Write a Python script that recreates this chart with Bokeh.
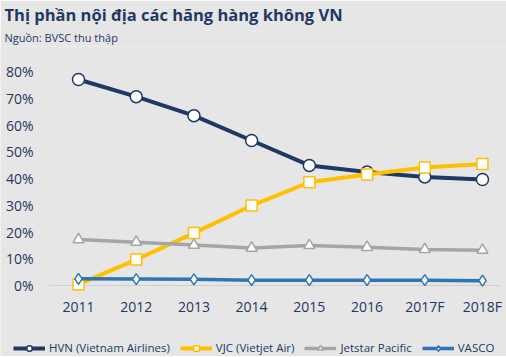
from bokeh.plotting import figure
from bokeh.models import (ColumnDataSource, FixedTicker, Legend, LegendItem, Title,
                          NumeralTickFormatter)
from bokeh.embed import file_html
from bokeh.resources import INLINE

years = ["2011", "2012", "2013", "2014", "2015", "2016", "2017F", "2018F"]
hvn = [0.77, 0.706, 0.635, 0.542, 0.449, 0.424, 0.406, 0.396]
vjc = [0.004, 0.097, 0.196, 0.299, 0.386, 0.415, 0.441, 0.454]
jetstar = [0.172, 0.162, 0.151, 0.140, 0.150, 0.143, 0.135, 0.132]
vasco = [0.025, 0.024, 0.023, 0.020, 0.020, 0.020, 0.020, 0.018]
y_ticks = [0, 0.1, 0.2, 0.3, 0.4, 0.5, 0.6, 0.7, 0.8]

names = ["HVN (Vietnam Airlines)", "VJC (Vietjet Air)", "Jetstar Pacific", "VASCO"]
colors = ["#1F3864", "#FFC000", "#A5A5A5", "#2E75B6"]
markers = ["circle", "square", "triangle", "diamond"]
msizes = [12, 11, 11, 11]
lwidths = [4, 4, 3.5, 3.5]

FONT = "Open Sans"
TXT = "#1F3864"
BG = "#E6E6E6"

x = list(range(len(years)))

# frame spans the full canvas width and down to the bottom edge, so the legend
# can sit inside it; axes are pinned at fixed locations inside the frame
p = figure(width=506, height=357, frame_width=506, frame_height=310,
           output_backend="svg", toolbar_location=None,
           x_range=(-1.3516, 7.4164), y_range=(-0.2654, 0.8935), title=None,
           min_border_left=0, min_border_right=0, min_border_top=0, min_border_bottom=0,
           background_fill_color=BG, border_fill_color=BG, outline_line_color=None)
p.xgrid.visible = False
p.ygrid.visible = False

items = []
series = [hvn, vjc, jetstar, vasco]
for vals, name, c, m, ms, lw in zip(series, names, colors, markers, msizes, lwidths):
    src = ColumnDataSource(dict(x=x, y=vals))
    r1 = p.line("x", "y", source=src, line_color=c, line_width=lw, line_join="round")
    r2 = p.scatter("x", "y", source=src, marker=m, size=ms, fill_color="white",
                   line_color=c, line_width=1.5)
    items.append(LegendItem(label=name, renderers=[r1, r2]))

# x axis: baseline at 0%, light grey line under the series
p.xaxis.ticker = FixedTicker(ticks=x)
p.xaxis.major_label_overrides = {i: y for i, y in enumerate(years)}
p.xaxis.fixed_location = 0
p.xaxis.bounds = (-0.5025, 7.312)
p.xaxis.axis_line_color = "#CFCFCF"
p.xaxis.axis_line_width = 1
p.xaxis.level = "underlay"
p.xaxis.major_label_standoff = 11

# y axis pinned at the left edge of the plotting area
p.yaxis.ticker = FixedTicker(ticks=y_ticks)
p.yaxis.formatter = NumeralTickFormatter(format="0%")
p.yaxis.fixed_location = -0.5025
p.yaxis.axis_line_color = None
p.yaxis.major_label_standoff = 16

for ax in (p.xaxis, p.yaxis):
    ax.major_tick_line_color = None
    ax.minor_tick_line_color = None
    ax.major_tick_out = 0
    ax.minor_tick_out = 0
    ax.major_label_text_font = FONT
    ax.major_label_text_font_size = "14px"
    ax.major_label_text_color = TXT

sub = Title(text="Nguồn: BVSC thu thập", text_font=FONT, text_font_size="11px",
            text_color=TXT, text_font_style="normal", align="left", offset=4, standoff=4)
p.add_layout(sub, "above")
main = Title(text="Thị phần nội địa các hãng hàng không VN", text_font=FONT,
             text_font_size="16.5px", text_font_style="bold", text_color=TXT,
             align="left", offset=4, standoff=0)
p.add_layout(main, "above")

legend = Legend(items=items, orientation="horizontal", location=(13, 1),
                background_fill_alpha=0, border_line_color=None, padding=0, margin=0,
                glyph_width=32, glyph_height=14, label_standoff=4, spacing=10,
                label_text_font=FONT, label_text_font_size="11.5px", label_text_color=TXT)
p.add_layout(legend, "center")

open("out.html", "w").write(file_html(p, INLINE))
